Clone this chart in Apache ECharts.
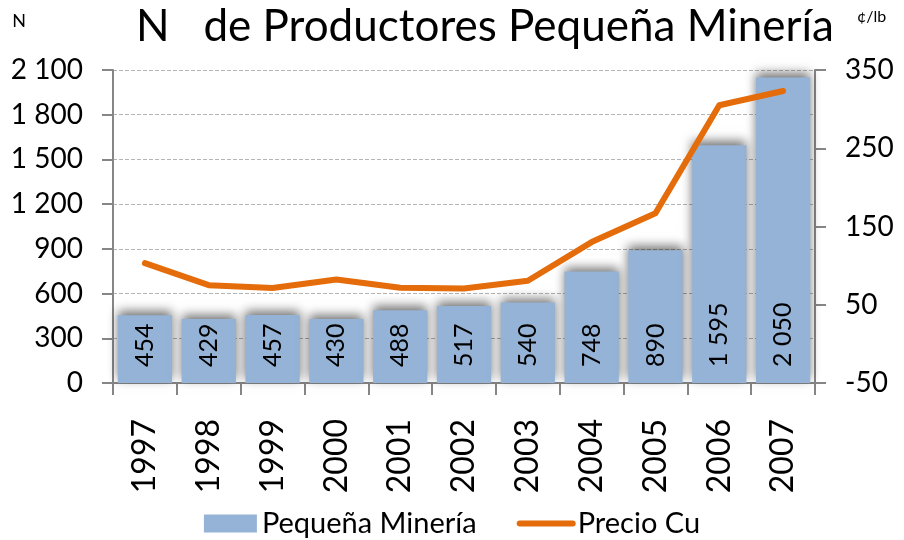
<!DOCTYPE html>
<html>
<head>
<meta charset="utf-8">
<script src="https://cdn.jsdelivr.net/npm/echarts@6/dist/echarts.min.js"></script>
<style>
html,body{margin:0;padding:0;background:#fff;}
#main{width:904px;height:540px;}
</style>
</head>
<body>
<div id="main"></div>
<script>
// datos
var years = ['1997','1998','1999','2000','2001','2002','2003','2004','2005','2006','2007'];
var productores = [454, 429, 457, 430, 488, 517, 540, 748, 890, 1595, 2050];
var precioCu = [103.2, 75.0, 71.4, 82.3, 71.6, 70.7, 80.7, 130.1, 166.9, 304.9, 323.2];

var fontFam = 'Lato, "Open Sans", sans-serif';

function miles(v){
	return String(v).replace(/\B(?=(\d{3})+(?!\d))/g, ' ');
}

var myChart = echarts.init(document.getElementById('main'));
var option = {
	animation: false,
	textStyle: {fontFamily: fontFam},
	title: {
		text: 'N   de Productores Pequeña Minería',
		left: 480,
		textAlign: 'center',
		top: 0,
		textStyle: {fontSize: 44, fontWeight: 'normal', color: '#000', fontFamily: fontFam}
	},
	legend: {
		top: 504,
		left: 'center',
		itemGap: 40,
		itemWidth: 53,
		itemHeight: 18,
		textStyle: {fontSize: 29, color: '#000', fontFamily: fontFam},
		data: [
			{name: 'Pequeña Minería', icon: 'rect'},
			{name: 'Precio Cu', itemStyle: {opacity: 0}, lineStyle: {width: 6, color: '#e46c0a', cap: 'round'}}
		]
	},
	grid: {left: 113, right: 89, top: 70, bottom: 157},
	xAxis: {
		type: 'category',
		data: years,
		axisLine: {lineStyle: {color: '#868686', width: 2}},
		axisTick: {show: true, length: 12, lineStyle: {color: '#868686', width: 2}},
		axisLabel: {rotate: 90, fontSize: 32, color: '#000', margin: 36, fontFamily: fontFam}
	},
	yAxis: [
		{
			type: 'value',
			name: 'N',
			nameLocation: 'end',
			nameGap: 40,
			nameTextStyle: {fontSize: 18, color: '#000', align: 'right', padding: [0, 87, 0, 0]},
			min: 0, max: 2100, interval: 300,
			axisLine: {show: true, lineStyle: {color: '#868686', width: 2}},
			axisTick: {show: true, length: 11, lineStyle: {color: '#868686', width: 2}},
			axisLabel: {fontSize: 28, color: '#000', margin: 30, formatter: function(v){ return miles(v); }},
			splitLine: {show: true, lineStyle: {color: '#b4b4b4', type: 'dashed', width: 1}}
		},
		{
			type: 'value',
			name: '¢/lb',
			nameLocation: 'end',
			nameGap: 45,
			nameTextStyle: {fontSize: 16, color: '#000', align: 'left', padding: [0, 0, 0, 42]},
			min: -50, max: 350, interval: 100,
			axisLine: {show: true, lineStyle: {color: '#868686', width: 2}},
			axisTick: {show: true, length: 11, lineStyle: {color: '#868686', width: 2}},
			axisLabel: {fontSize: 28, color: '#000', margin: 30},
			splitLine: {show: false}
		}
	],
	series: [
		{
			name: 'Pequeña Minería',
			type: 'bar',
			yAxisIndex: 0,
			barCategoryGap: '15%',
			data: productores,
			itemStyle: {
				color: '#95b3d7',
				shadowBlur: 10,
				shadowColor: 'rgba(0,0,0,0.55)',
				shadowOffsetX: 0,
				shadowOffsetY: -4
			},
			label: {
				show: true,
				position: 'insideBottom',
				rotate: 90,
				align: 'left',
				verticalAlign: 'middle',
				distance: 16,
				fontSize: 25,
				color: '#000',
				fontFamily: fontFam,
				formatter: function(p){ return miles(p.value); }
			},
			z: 2
		},
		{
			name: 'Precio Cu',
			type: 'line',
			yAxisIndex: 1,
			data: precioCu,
			symbol: 'none',
			lineStyle: {color: '#e46c0a', width: 6, cap: 'round', join: 'round'},
			itemStyle: {color: '#e46c0a'},
			z: 3
		}
	]
};
myChart.setOption(option);
</script>
</body>
</html>
